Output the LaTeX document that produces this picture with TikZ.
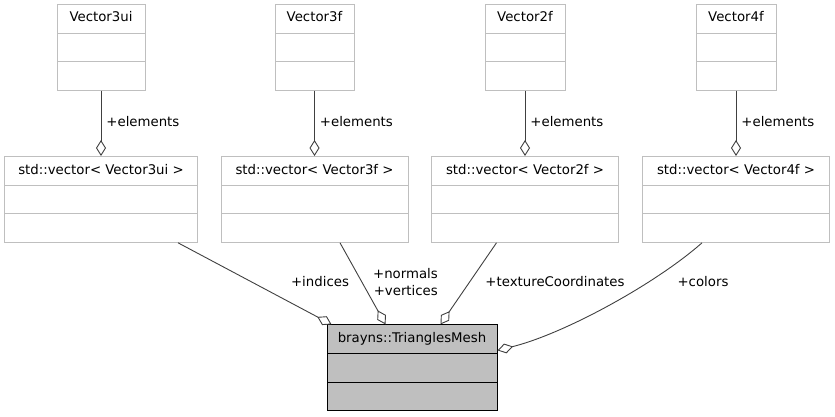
\documentclass[tikz,border=0pt]{standalone}
\usepackage{fontspec}
\setmainfont{DejaVu Sans}
\usetikzlibrary{shapes.multipart,arrows.meta}
\definecolor{boxgray}{HTML}{BFBFBF}
\definecolor{edgegray}{HTML}{404040}
\tikzset{
  umlclass/.style={rectangle split, rectangle split parts=3, draw=boxgray,
    line width=1pt, fill=white, inner xsep=4pt, inner ysep=5.8pt,
    font=\fontsize{13.3}{16}\selectfont},
  mainclass/.style={umlclass, draw=black, fill=boxgray},
  member/.style={draw=edgegray, line width=0.9pt,
    -{Diamond[open,length=16pt,width=10pt]}},
  elabel/.style={inner sep=1pt, font=\fontsize{13.3}{17}\selectfont}
}
\begin{document}
\begin{tikzpicture}[x=1pt,y=-1pt]
\useasboundingbox (0,0) rectangle (835,416);
% element types
\node[umlclass, minimum width=88pt] (v3ui) at (101,47.3) {\strut Vector3ui \nodepart{two}\strut \nodepart{three}\strut};
\node[umlclass, minimum width=79pt] (v3f) at (314.5,47.3) {\strut Vector3f \nodepart{two}\strut \nodepart{three}\strut};
\node[umlclass, minimum width=80pt] (v2f) at (525,47.3) {\strut Vector2f \nodepart{two}\strut \nodepart{three}\strut};
\node[umlclass, minimum width=80pt] (v4f) at (736,47.3) {\strut Vector4f \nodepart{two}\strut \nodepart{three}\strut};
% vectors
\node[umlclass, minimum width=193pt] (vec3ui) at (101,199.4) {\strut std::vector< Vector3ui > \nodepart{two}\strut \nodepart{three}\strut};
\node[umlclass, minimum width=187pt] (vec3f) at (314.5,199.4) {\strut std::vector< Vector3f > \nodepart{two}\strut \nodepart{three}\strut};
\node[umlclass, minimum width=187pt] (vec2f) at (525,199.4) {\strut std::vector< Vector2f > \nodepart{two}\strut \nodepart{three}\strut};
\node[umlclass, minimum width=187pt] (vec4f) at (736,199.4) {\strut std::vector< Vector4f > \nodepart{two}\strut \nodepart{three}\strut};
% mesh
\node[mainclass, minimum width=170pt] (mesh) at (412,367.8) {\strut brayns::TrianglesMesh \nodepart{two}\strut \nodepart{three}\strut};
% elements
\draw[member] (v3ui.south) -- node[elabel, right=4pt, pos=0.47] (e3ui) {+elements} (vec3ui.north);
\draw[member] (v3f.south) -- node[elabel, right=4pt, pos=0.47] (e3f) {+elements} (vec3f.north);
\draw[member] (v2f.south) -- node[elabel, right=4pt, pos=0.47] (e2f) {+elements} (vec2f.north);
\draw[member] (v4f.south) -- node[elabel, right=4pt, pos=0.47] (e4f) {+elements} (vec4f.north);
% members of the mesh
\draw[member] ([xshift=-20pt]vec3ui.south east) -- ([xshift=5pt]mesh.north west);
\draw[member] ([xshift=25.5pt]vec3f.south) -- ([xshift=59pt]mesh.north west);
\draw[member] ([xshift=-28.5pt]vec2f.south) -- ([xshift=114pt]mesh.north west);
\draw[member] ([xshift=-34pt]vec4f.south) .. controls +(-45,40) and +(68,-17) .. ([yshift=-26pt]mesh.north east);
\node[elabel] (lind) at (320,282) {+indices};
\node[elabel, align=right, anchor=east] (lvert) at (439,282) {+normals\\+vertices};
\node[elabel] (ltex) at (555,282) {+textureCoordinates};
\node[elabel] (lcol) at (703,282) {+colors};
\end{tikzpicture}
\end{document}
